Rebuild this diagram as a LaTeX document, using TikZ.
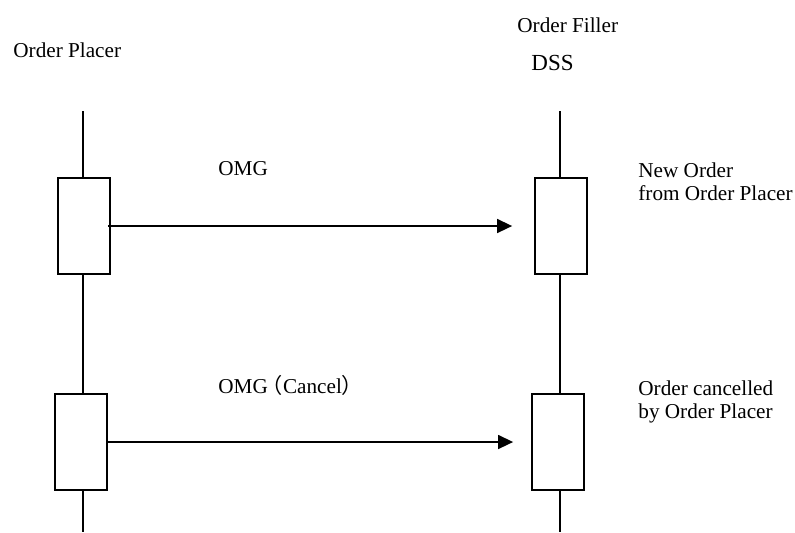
\documentclass[tikz,border=0pt]{standalone}
\usepackage{fontspec}
\setmainfont{Liberation Serif}
\newfontfamily\cjk{Noto Sans CJK JP}
\usetikzlibrary{arrows.meta}

\tikzset{
  lifeline/.style={line width=0.75pt},
  actbox/.style={draw, line width=0.9pt, fill=white, minimum width=26pt, minimum height=48pt, inner sep=0pt},
  msg/.style={line width=0.75pt, -{Triangle[length=7.5pt,width=7pt]}},
  lbl/.style={anchor=base west, inner sep=0pt, align=left, font=\fontsize{10.6}{11.5}\selectfont}
}

\begin{document}
\begin{tikzpicture}[x=0.5pt, y=-0.5pt]
        \useasboundingbox (0,0) rectangle (795,532);
        %
        \node [lbl] (placer) at (13,57) {Order Placer};
        \node [lbl] (filler) at (517,32) {Order Filler};
        \node [lbl, font=\fontsize{11.5}{13}\selectfont] (dss) at (531,70) {DSS};
        %
        \coordinate (ltop) at (83,111);
        \coordinate (lbot) at (83,532);
        \coordinate (rtop) at (560,111);
        \coordinate (rbot) at (560,532);
        \draw [lifeline] (ltop) -- (lbot);
        \draw [lifeline] (rtop) -- (rbot);
        %
        \node [actbox] (lb1) at (84,226) {};
        \node [actbox] (rb1) at (561,226) {};
        \node [actbox] (lb2) at (81,442) {};
        \node [actbox] (rb2) at (558,442) {};
        %
        \draw [msg, shorten <=-1.5pt, shorten >=11pt] (lb1.east) -- (lb1.east -| rb1.west);
        \draw [msg, shorten >=9pt] (lb2.east) -- (lb2.east -| rb2.west);
        %
        \node [lbl] (omg) at (218,175) {OMG};
        \node [lbl] (omgc) at (218,393) {OMG{\cjk\kern-3pt（}Cancel{\cjk ）\kern-3pt}};
        \node [lbl] (neword) at (638,200) {New Order\\from Order Placer};
        \node [lbl] (cancord) at (638,418) {Order cancelled\\by Order Placer};
\end{tikzpicture}
\end{document}
